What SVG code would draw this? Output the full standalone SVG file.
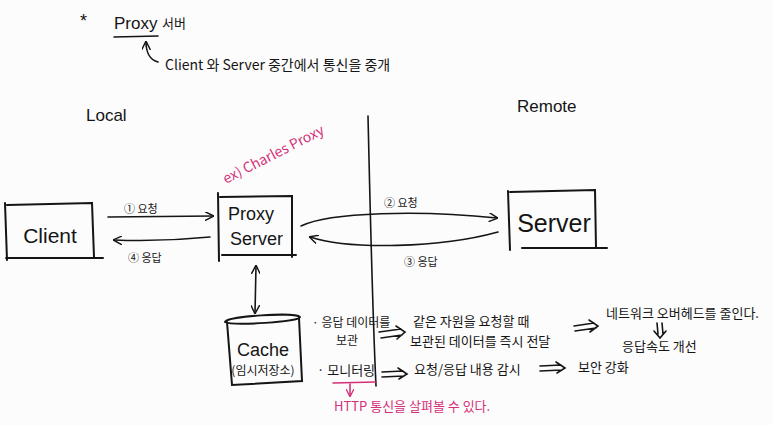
<svg xmlns="http://www.w3.org/2000/svg" width="773" height="425" viewBox="0 0 773 425">
<style>
.t{font-family:"Liberation Sans","Noto Sans CJK KR",sans-serif;fill:#151515}
.k{font-family:"Noto Sans CJK KR","Liberation Sans",sans-serif;fill:#151515}
.p{font-family:"Noto Sans CJK KR","Liberation Sans",sans-serif;fill:#d4307a}
.box{fill:none;stroke:#151515;stroke-width:2;stroke-linecap:round}
.ln{fill:none;stroke:#151515;stroke-width:1.6;stroke-linecap:round}
.pk{fill:none;stroke:#d4307a;stroke-width:1.6;stroke-linecap:round}
</style>
<defs>
<marker id="ah" viewBox="0 0 10 10" refX="9" refY="5" markerWidth="9" markerHeight="9" orient="auto-start-reverse" markerUnits="userSpaceOnUse">
<path d="M0,0 L10,5 L0,10" fill="none" stroke="#151515" stroke-width="1.6"/>
</marker>
<marker id="ahp" viewBox="0 0 10 10" refX="9" refY="5" markerWidth="8" markerHeight="8" orient="auto" markerUnits="userSpaceOnUse">
<path d="M0,0 L10,5 L0,10" fill="none" stroke="#d4307a" stroke-width="1.6"/>
</marker>
</defs>
<rect width="773" height="425" fill="#fcfcfc"/>

<!-- title -->
<text class="t" x="80" y="27" font-size="18">*</text>
<text class="t" x="114" y="29" font-size="17">Proxy</text>
<text class="k" x="162" y="28" font-size="13">서버</text>
<path class="ln" d="M114,37 L158,36"/>
<path class="ln" d="M158,62 C150,60 146,52 146,42" marker-end="url(#ah)"/>
<text class="k" x="165" y="70" font-size="14">Client 와 Server 중간에서 통신을 중개</text>

<text class="t" x="86" y="121" font-size="17">Local</text>
<text class="t" x="517" y="112" font-size="17">Remote</text>

<!-- divider -->
<path class="ln" d="M368,116 C370,200 372,300 376,386"/>

<text class="p" x="0" y="0" font-size="14" transform="translate(226,184) rotate(-27)">ex) Charles Proxy</text>

<g id="client">
<path class="box" d="M7,205 L92,203 L94,257 M5,203 L7,260 M6,258 L103,258"/>
<text class="t" x="50" y="243" font-size="21" text-anchor="middle">Client</text>
</g>
<g id="proxy">
<path class="box" d="M218,193 L219,261 M220,197 L292,196 L292,257 M222,255 L296,255"/>
<text class="t" x="228" y="220" font-size="18">Proxy</text>
<text class="t" x="230" y="245" font-size="18">Server</text>
</g>
<g id="server">
<path class="box" d="M508,191 L510,250 M510,192 L595,190 L596,248 M522,248 L607,248"/>
<text class="t" x="554" y="232" font-size="25" text-anchor="middle">Server</text>
</g>
<g id="cache">
<path class="box" d="M225,322 C226,316 296,312 300,317 C300,322 232,326 225,322 Z"/>
<path class="box" d="M227,322 L232,385 L302,381 L299,318"/>
<text class="t" x="263" y="356" font-size="18" text-anchor="middle">Cache</text>
<text class="k" x="263" y="375" font-size="12" text-anchor="middle">(임시저장소)</text>
</g>

<g id="connectors">
<path class="ln" d="M108,217 L213,216" marker-end="url(#ah)"/>
<path class="ln" d="M210,237 C180,240 140,241 114,240" marker-end="url(#ah)"/>
<path class="ln" d="M301,226 C330,212 420,210 497,218" marker-end="url(#ah)"/>
<path class="ln" d="M498,232 C440,248 350,250 310,237" marker-end="url(#ah)"/>
<path class="ln" d="M256,266 L255,313" marker-start="url(#ah)" marker-end="url(#ah)"/>
<!-- double arrows -->
<g class="ln">
<path d="M379,332 L401,329 M381,338 L402,335 M396,326 L405,332 L397,339"/>
<path d="M574,326 L594,323 M575,331 L596,328 M589,320 L598,326 L590,332"/>
<path d="M657,323 L658,334 M662,323 L663,334 M654,331 L660,338 L666,331"/>
<path d="M382,372 L403,371 M382,377 L404,376 M398,368 L407,374 L399,379"/>
<path d="M540,366 L561,365 M540,371 L562,370 M556,362 L565,368 L557,373"/>
</g>
<path class="pk" d="M333,383 L376,382"/>
<path class="pk" d="M350,384 L350,396" marker-end="url(#ahp)"/>
</g>

<text class="k" x="312" y="327" font-size="12">· 응답 데이터를</text>
<text class="k" x="336" y="345" font-size="12">보관</text>
<text class="k" x="413" y="326" font-size="13">같은 자원을 요청할 때</text>
<text class="k" x="410" y="346" font-size="13">보관된 데이터를 즉시 전달</text>
<text class="k" x="606" y="318" font-size="13">네트워크 오버헤드를 줄인다.</text>
<text class="k" x="622" y="351" font-size="13">응답속도 개선</text>
<text class="k" x="317" y="375" font-size="13">· 모니터링</text>
<text class="k" x="414" y="374" font-size="13">요청/응답 내용 감시</text>
<text class="k" x="578" y="372" font-size="13">보안 강화</text>
<text class="p" x="334" y="411" font-size="13">HTTP 통신을 살펴볼 수 있다.</text>

<text class="k" x="124" y="213" font-size="11">① 요청</text>
<text class="k" x="128" y="262" font-size="11">④ 응답</text>
<text class="k" x="384" y="207" font-size="11">② 요청</text>
<text class="k" x="404" y="266" font-size="11">③ 응답</text>
</svg>
